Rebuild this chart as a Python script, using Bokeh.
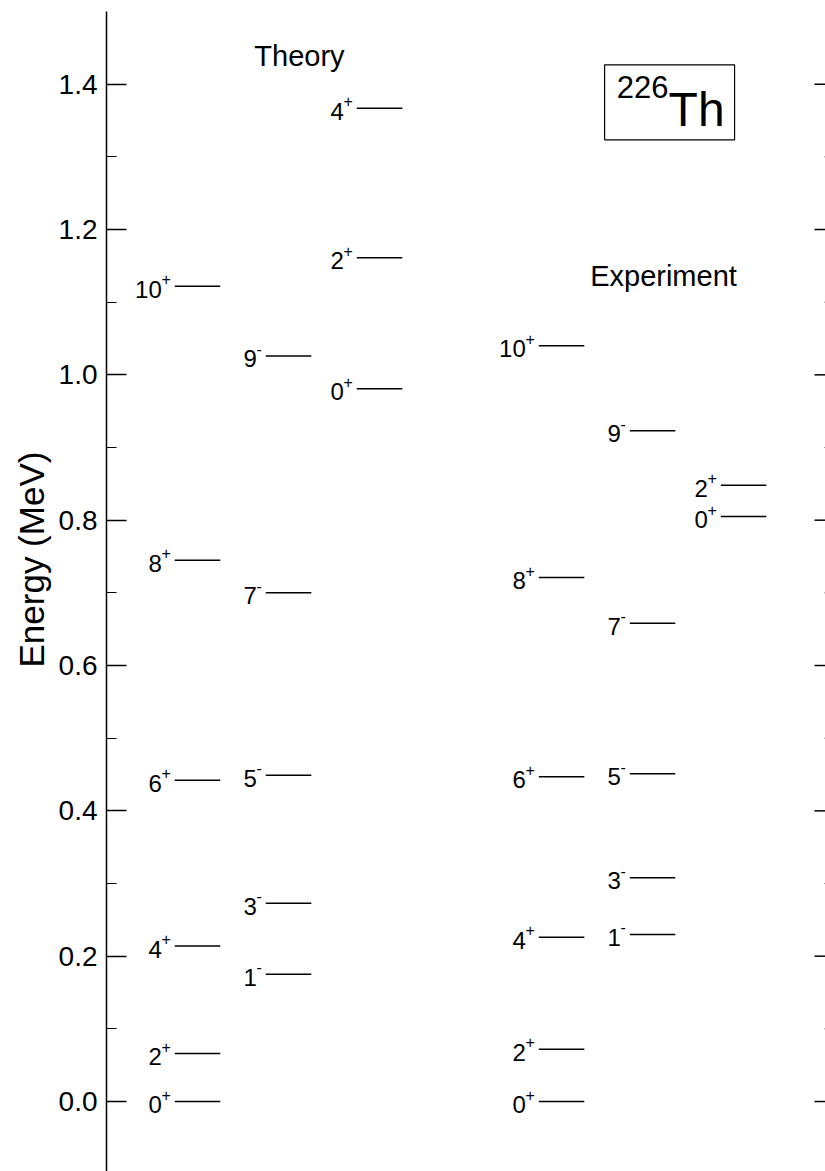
import numpy as np
from bokeh.plotting import figure
from bokeh.models import (ColumnDataSource, Range1d, LinearAxis, Label, Title,
                          BoxAnnotation, FixedTicker, PrintfTickFormatter)
from bokeh.core.properties import value
from bokeh.embed import file_html
from bokeh.resources import INLINE

# Level energies of 226Th (MeV)
theory_gsb_spin = ["0", "2", "4", "6", "8", "10"]
theory_gsb_energy = [0.000, 0.066, 0.214, 0.442, 0.745, 1.122]

theory_oct_spin = ["1", "3", "5", "7", "9"]
theory_oct_energy = [0.175, 0.273, 0.449, 0.700, 1.026]

theory_beta_spin = ["0", "2", "4"]
theory_beta_energy = [0.981, 1.161, 1.367]

exp_gsb_spin = ["0", "2", "4", "6", "8", "10"]
exp_gsb_energy = [0.000, 0.072, 0.226, 0.447, 0.721, 1.040]

exp_oct_spin = ["1", "3", "5", "7", "9"]
exp_oct_energy = [0.230, 0.308, 0.451, 0.658, 0.923]

exp_beta_spin = ["0", "2"]
exp_beta_energy = [0.805, 0.848]

y_ticks = [0.0, 0.2, 0.4, 0.6, 0.8, 1.0, 1.2, 1.4]
y_minor_ticks = [0.1, 0.3, 0.5, 0.7, 0.9, 1.1, 1.3]

# (column position, spins, energies, parity)
bands = [
    (1, theory_gsb_spin, theory_gsb_energy, "+"),
    (2, theory_oct_spin, theory_oct_energy, "-"),
    (3, theory_beta_spin, theory_beta_energy, "+"),
    (5, exp_gsb_spin, exp_gsb_energy, "+"),
    (6, exp_oct_spin, exp_oct_energy, "-"),
    (7, exp_beta_spin, exp_beta_energy, "+"),
]

HALF = 0.25          # half length of a level line (x units)
GAP = 4              # px between label and line
SIGN_W = {"+": 9, "-": 5}

rows = {"x0": [], "x1": [], "e": [], "spin": [], "sign": [], "num_off": []}
for col, spins, energies, parity in bands:
    for s, e in zip(spins, energies):
        rows["x0"].append(col - HALF)
        rows["x1"].append(col + HALF)
        rows["e"].append(e)
        rows["spin"].append(s)
        rows["sign"].append(parity)
        rows["num_off"].append(-(GAP + SIGN_W[parity]))
src = ColumnDataSource(rows)

FONT = value("Liberation Sans")
X_END = 7.9

p = figure(width=825, height=1171,
           x_range=Range1d(0, X_END), y_range=Range1d(-0.0963, 1.5),
           output_backend="svg", toolbar_location=None,
           x_axis_location=None, y_axis_location=None,
           min_border_left=106, min_border_right=0,
           min_border_top=11, min_border_bottom=0)
p.outline_line_color = None
p.xgrid.visible = False
p.ygrid.visible = False
p.background_fill_color = "white"
p.border_fill_color = "white"

ticker = FixedTicker(ticks=y_ticks, minor_ticks=y_minor_ticks)

left = LinearAxis(ticker=ticker, formatter=PrintfTickFormatter(format="%.1f"))
left.major_tick_in = 20
left.major_tick_out = 0
left.minor_tick_in = 10
left.minor_tick_out = 0
left.axis_line_color = "black"
left.axis_line_width = 1.5
left.major_tick_line_width = 1.5
left.minor_tick_line_width = 1.2
left.major_label_standoff = 9
left.major_label_text_font = "Liberation Sans"
left.major_label_text_font_size = "28px"
left.major_label_text_color = "black"
p.add_layout(left, "left")

# y-axis title, placed in its own panel left of the tick labels
p.add_layout(Title(text="Energy (MeV)", align="left", offset=504,
                   text_font="Liberation Sans", text_font_size="35px",
                   text_font_style="normal", text_color="black",
                   standoff=10), "left")

# inward ticks along the right edge of the frame
tick_len_px = 11
px_per_unit = (825 - 106) / X_END
p.segment(x0=[X_END - tick_len_px / px_per_unit] * len(y_ticks), x1=[X_END] * len(y_ticks),
          y0=y_ticks, y1=y_ticks, line_color="black", line_width=1.5)
p.segment(x0=[X_END - 1.5 / px_per_unit] * len(y_minor_ticks), x1=[X_END] * len(y_minor_ticks),
          y0=y_minor_ticks, y1=y_minor_ticks, line_color="#999999", line_width=1)

# level lines
p.segment(x0="x0", y0="e", x1="x1", y1="e", source=src,
          line_color="black", line_width=1.5)

# spin labels with parity as superscript
p.text(x="x0", y="e", text="spin", source=src, x_offset="num_off", y_offset=3,
       text_align="right", text_baseline="middle",
       text_font=FONT, text_font_size="24px", text_color="black")
p.text(x="x0", y="e", text="sign", source=src, x_offset=-GAP, y_offset=-7,
       text_align="right", text_baseline="middle",
       text_font=FONT, text_font_size="16px", text_color="black")

# headings
p.add_layout(Label(x=2.12, y=1.439, text="Theory", text_align="center",
                   text_baseline="middle", text_font="Liberation Sans",
                   text_font_size="29px", text_color="black"))
p.add_layout(Label(x=6.12, y=1.136, text="Experiment", text_align="center",
                   text_baseline="middle", text_font="Liberation Sans",
                   text_font_size="29px", text_color="black"))

# nucleus box
p.add_layout(BoxAnnotation(left=5.473, right=6.901, bottom=1.3234, top=1.4266,
                           fill_alpha=0, line_color="black", line_alpha=1,
                           line_width=1.2))
p.add_layout(Label(x=6.176, y=1.3963, text="226", text_align="right",
                   text_baseline="middle", text_font="Liberation Sans",
                   text_font_size="31px", text_color="black"))
p.add_layout(Label(x=6.176, y=1.3655, text="Th", text_align="left",
                   text_baseline="middle", text_font="Liberation Sans",
                   text_font_size="48px", text_color="black"))

open("out.html", "w").write(file_html(p, INLINE))
